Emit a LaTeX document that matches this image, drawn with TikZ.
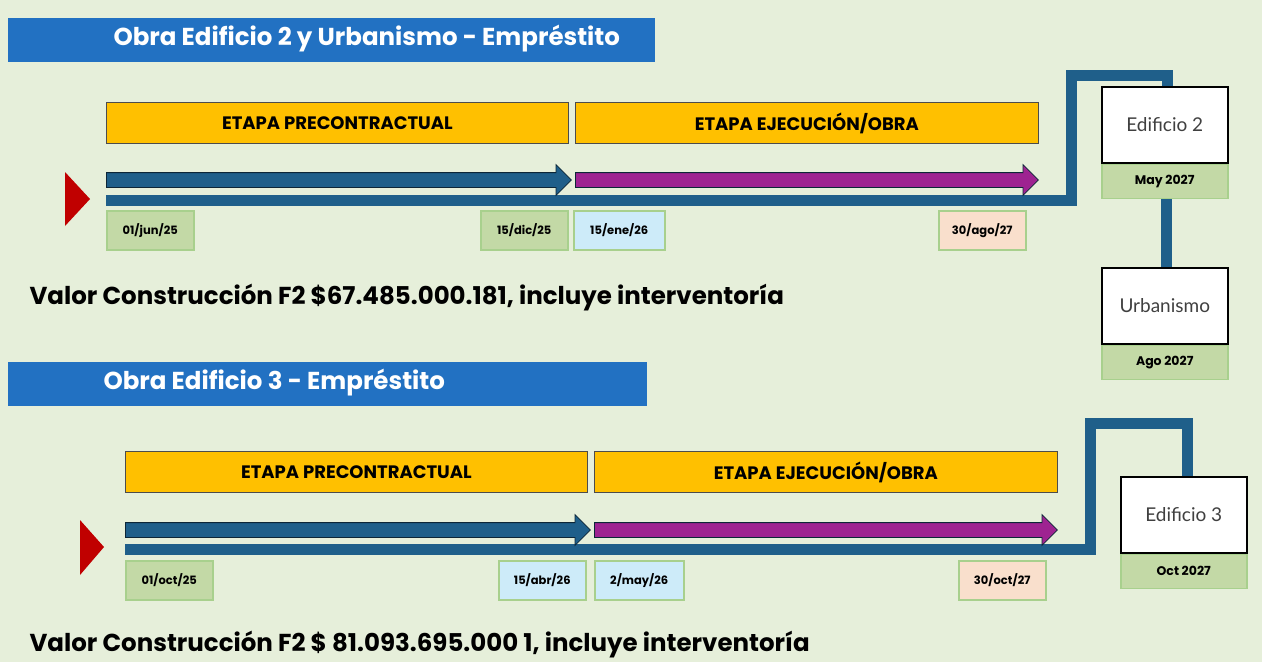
\documentclass[tikz,border=0pt]{standalone}
\usepackage{fontspec}
\setmainfont{Poppins}
\newfontfamily\hitofont{Lato}
\usetikzlibrary{shapes.arrows, positioning}

\definecolor{bgGreen}{HTML}{E6EFDA}
\definecolor{hdrBlue}{HTML}{2271C2}
\definecolor{etapaGold}{HTML}{FFC000}
\definecolor{lineBlue}{HTML}{1F5F8A}
\definecolor{obraPurple}{HTML}{9E2391}
\definecolor{startRed}{HTML}{C00000}
\definecolor{lblGreen}{HTML}{C3D9A6}
\definecolor{lblBlue}{HTML}{CDEBF9}
\definecolor{lblPeach}{HTML}{F9DFCC}
\definecolor{lblEdge}{HTML}{A8D08D}

\tikzset{
  header/.style={fill=hdrBlue, minimum height=44pt, anchor=north west, inner sep=0pt},
  headtxt/.style={anchor=west, text=white, font=\bfseries\fontsize{24.5}{28}\selectfont},
  etapa/.style={draw=black!70, line width=0.8pt, fill=etapaGold, minimum height=41pt, anchor=north west, font=\bfseries\fontsize{18}{21}\selectfont},
  phase/.style={single arrow, draw=black!60!lineBlue, line width=0.8pt, inner sep=7pt, single arrow head extend=8pt, anchor=tail},
  timeline/.style={draw=lineBlue, line width=11pt},
  dlabel/.style={draw=lblEdge, line width=1.5pt, minimum height=39pt, anchor=north west, font=\bfseries\fontsize{11.5}{13}\selectfont},
  hito/.style={draw=black, line width=1.5pt, fill=white, minimum width=126pt, minimum height=76pt, anchor=north west, text=black!75, font=\hitofont\fontsize{19}{22}\selectfont},
  hitodate/.style={draw=lblEdge, line width=1.5pt, fill=lblGreen, minimum width=126pt, minimum height=34pt, font=\bfseries\fontsize{12.5}{15}\selectfont},
  valor/.style={anchor=west, font=\bfseries\fontsize{24.5}{28}\selectfont}
}

\begin{document}
\begin{tikzpicture}[x=1pt, y=-1pt]
  % Canvas
  \fill[bgGreen] (0,0) rectangle (1262,662);
  \useasboundingbox (0,0) rectangle (1262,662);

  % ---------- Edificio 2 y Urbanismo ----------
  \node[header, minimum width=647pt] (h1) at (8,18) {};
  \node[headtxt] (h1txt) at (110,39) {Obra Edificio 2 y Urbanismo - Empréstito};

  \node[etapa, minimum width=462pt] (pre1) at (106,102) {ETAPA PRECONTRACTUAL};
  \node[etapa, minimum width=463pt] (eje1) at (575,102) {ETAPA EJECUCIÓN/OBRA};

  % Milestones
  \node[hito] (ed2) at (1101,86) {Edificio 2};
  \node[hitodate, below=0pt of ed2] (may) {May 2027};
  \node[hito] (urb) at (1101,267) {Urbanismo};
  \node[hitodate, below=0pt of urb] (ago) {Ago 2027};

  % Timeline
  \coordinate (s1) at (106,200);
  \draw[timeline] (s1) -| (1071,75) -| ([xshift=3pt]ed2.north);
  \draw[timeline] ([xshift=2pt]may.south) -- ([xshift=2pt]urb.north);
  \fill[startRed] (65,172) -- (90,199) -- (65,226) -- cycle;

  \node[phase, fill=lineBlue, minimum height=465pt] (a1) at (106,180) {};
  \node[phase, fill=obraPurple, minimum height=463pt] (b1) at (575,180) {};

  % Dates
  \foreach \x/\w/\c/\d [count=\i] in {106/87/lblGreen/{01/jun/25}, 480/87/lblGreen/{15/dic/25},
                                      573/91/lblBlue/{15/ene/26}, 938/87/lblPeach/{30/ago/27}} {
    \node[dlabel, fill=\c, minimum width=\w pt] (d1-\i) at (\x,210) {\d};
  }

  \node[valor] (v1) at (26,298) {Valor Construcción F2 \$67.485.000.181, incluye interventoría};

  % ---------- Edificio 3 ----------
  \node[header, minimum width=639pt] (h2) at (8,362) {};
  \node[headtxt] (h2txt) at (100,383) {Obra Edificio 3 - Empréstito};

  \node[etapa, minimum width=462pt] (pre2) at (125,451) {ETAPA PRECONTRACTUAL};
  \node[etapa, minimum width=463pt] (eje2) at (594,451) {ETAPA EJECUCIÓN/OBRA};

  \node[hito] (ed3) at (1120,476) {Edificio 3};
  \node[hitodate, below=0pt of ed3] (oct) {Oct 2027};

  \coordinate (s2) at (125,549);
  \draw[timeline] (s2) -| (1090,423) -| ([xshift=4pt]ed3.north);
  \fill[startRed] (80,520) -- (104,547) -- (80,575) -- cycle;

  \node[phase, fill=lineBlue, minimum height=465pt] (a2) at (125,530) {};
  \node[phase, fill=obraPurple, minimum height=463pt] (b2) at (594,530) {};

  \foreach \x/\w/\c/\d [count=\i] in {125/87/lblGreen/{01/oct/25}, 498/87/lblBlue/{15/abr/26},
                                      594/89/lblBlue/{2/may/26}, 958/87/lblPeach/{30/oct/27}} {
    \node[dlabel, fill=\c, minimum width=\w pt] (d2-\i) at (\x,560) {\d};
  }

  \node[valor] (v2) at (26,645) {Valor Construcción F2 \$ 81.093.695.000 1, incluye interventoría};
\end{tikzpicture}
\end{document}
